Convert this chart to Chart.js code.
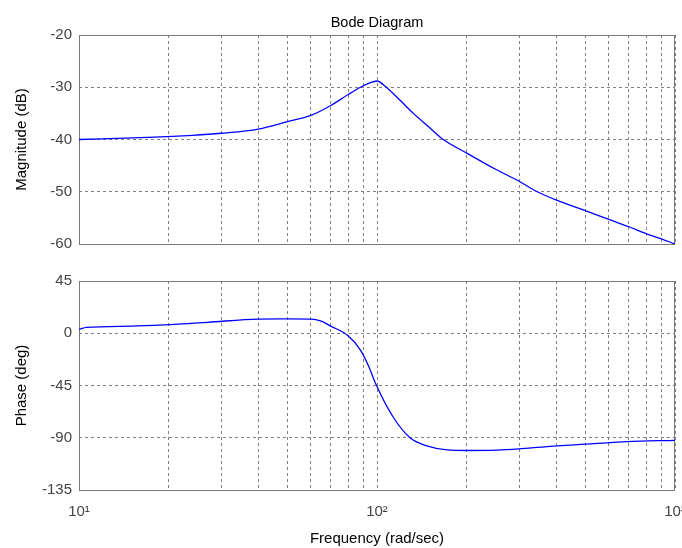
<!DOCTYPE html>
<html>
<head>
<meta charset="utf-8">
<title>Bode Diagram</title>
<script src="https://cdn.jsdelivr.net/npm/chart.js@4"></script>
<style>
  body { margin: 0; background: #fff; }
  #wrap { position: relative; width: 682px; height: 548px; }
  canvas { position: absolute; left: 0; }
  #mag { top: 0; }
  #phase { top: 265px; }
</style>
</head>
<body>
<div id="wrap">
  <canvas id="mag" width="682" height="260"></canvas>
  <canvas id="phase" width="682" height="283"></canvas>
</div>
<script>
// frequency grid (rad/sec): decades are labelled, the rest are minor lines
const freqTicks = [10, 20, 30, 40, 50, 60, 70, 80, 90, 100, 200, 300, 400, 500, 600, 700, 800, 900, 1000];
const decadeLabels = { 10: '10¹', 100: '10²', 1000: '10³' };

const magTicks = [-60, -50, -40, -30, -20];
const phaseTicks = [-135, -90, -45, 0, 45];

// magnitude response
const magFreq = [10, 17, 24, 30, 40, 50, 60, 70, 80, 88, 95, 100, 107, 120, 133, 150, 165, 200, 250, 300, 345, 400, 500, 600, 700, 800, 900, 1000];
const magDb   = [-40.0, -39.6, -39.2, -38.8, -38.0, -36.6, -35.4, -33.5, -31.4, -30.0, -29.1, -28.8, -29.9, -32.6, -35.1, -37.7, -39.8, -42.6, -45.7, -48.0, -50.0, -51.6, -53.6, -55.3, -56.7, -58.0, -59.0, -60.0];

// phase response
const phaseFreq = [10, 10.6, 15, 19.3, 27, 40, 50, 60, 65, 70, 80, 88, 94, 99, 113, 129, 147, 172, 200, 253, 300, 372, 533, 690, 1000];
const phaseDeg  = [3.3, 5.0, 6.1, 7.2, 9.4, 12.2, 12.3, 12.2, 10.4, 6.1, -2.2, -14.5, -29, -43.5, -71.7, -90.0, -97.0, -100.5, -101.0, -100.7, -99.6, -97.6, -95.1, -93.4, -92.2];

Chart.defaults.font.family = "'Liberation Sans', Arial, sans-serif";
Chart.defaults.font.size = 15;

const gridColor = '#808080';
const tickColor = '#444';

// solid grey box round the plot area
const frame = {
  id: 'frame',
  beforeDatasetsDraw(chart) {
    const a = chart.chartArea;
    const ctx = chart.ctx;
    ctx.save();
    ctx.strokeStyle = '#7a7a7a';
    ctx.lineWidth = 1;
    ctx.strokeRect(a.left + 0.5, a.top + 0.5, a.right - a.left - 1, a.bottom - a.top);
    ctx.restore();
  }
};

function freqAxis(showLabels, height) {
  return {
    type: 'logarithmic',
    min: 10,
    max: 1000,
    afterBuildTicks: axis => { axis.ticks = freqTicks.map(v => ({ value: v })); },
    // fixed height, and no extra side padding for the edge labels
    afterFit: s => { s.height = height; s.paddingLeft = 0; s.paddingRight = 0; },
    grid: { color: gridColor, lineWidth: 1, drawTicks: false },
    border: { display: false, dash: [3, 3] },
    ticks: {
      display: showLabels,
      autoSkip: false,
      maxRotation: 0,
      padding: 13,
      color: tickColor,
      callback: v => decadeLabels[v] || ''
    }
  };
}

function valueAxis(ticks, label) {
  return {
    min: ticks[0],
    max: ticks[ticks.length - 1],
    afterBuildTicks: axis => { axis.ticks = ticks.map(v => ({ value: v })); },
    grid: { color: gridColor, lineWidth: 1, drawTicks: false },
    border: { display: false, dash: [3, 3] },
    ticks: { padding: 7, color: tickColor },
    title: { display: true, text: label, color: '#000', padding: { top: 13, bottom: 0 } },
    afterFit: s => { s.width = 79; }
  };
}

function curve(freq, values) {
  return {
    data: freq.map((f, i) => ({ x: f, y: values[i] })),
    borderColor: '#0000ff',
    borderWidth: 1.3,
    pointRadius: 0,
    cubicInterpolationMode: 'monotone'
  };
}

const common = {
  responsive: false,
  animation: false,
  plugins: { legend: { display: false }, tooltip: { enabled: false } }
};

new Chart(document.getElementById('mag'), {
  type: 'line',
  data: { datasets: [curve(magFreq, magDb)] },
  options: {
    ...common,
    layout: { padding: { top: 0, right: 7, bottom: 9, left: 0 } },
    scales: {
      x: freqAxis(false, 0),
      top: {
        type: 'linear',
        position: 'top',
        grid: { display: false },
        border: { display: false },
        ticks: { display: false },
        title: { display: true, text: 'Bode Diagram', color: '#000', font: { size: 14.5 }, padding: { top: 14, bottom: 0 } },
        afterFit: s => { s.height = 35; }
      },
      y: valueAxis(magTicks, 'Magnitude (dB)')
    }
  },
  plugins: [frame]
});

new Chart(document.getElementById('phase'), {
  type: 'line',
  data: { datasets: [curve(phaseFreq, phaseDeg)] },
  options: {
    ...common,
    layout: { padding: { top: 10, right: 7, bottom: 0, left: 0 } },
    scales: {
      x: {
        ...freqAxis(true, 58),
        title: { display: true, text: 'Frequency (rad/sec)', color: '#000', padding: { top: 3, bottom: 0 } }
      },
      y: valueAxis(phaseTicks, 'Phase (deg)')
    }
  },
  plugins: [frame]
});
</script>
</body>
</html>
